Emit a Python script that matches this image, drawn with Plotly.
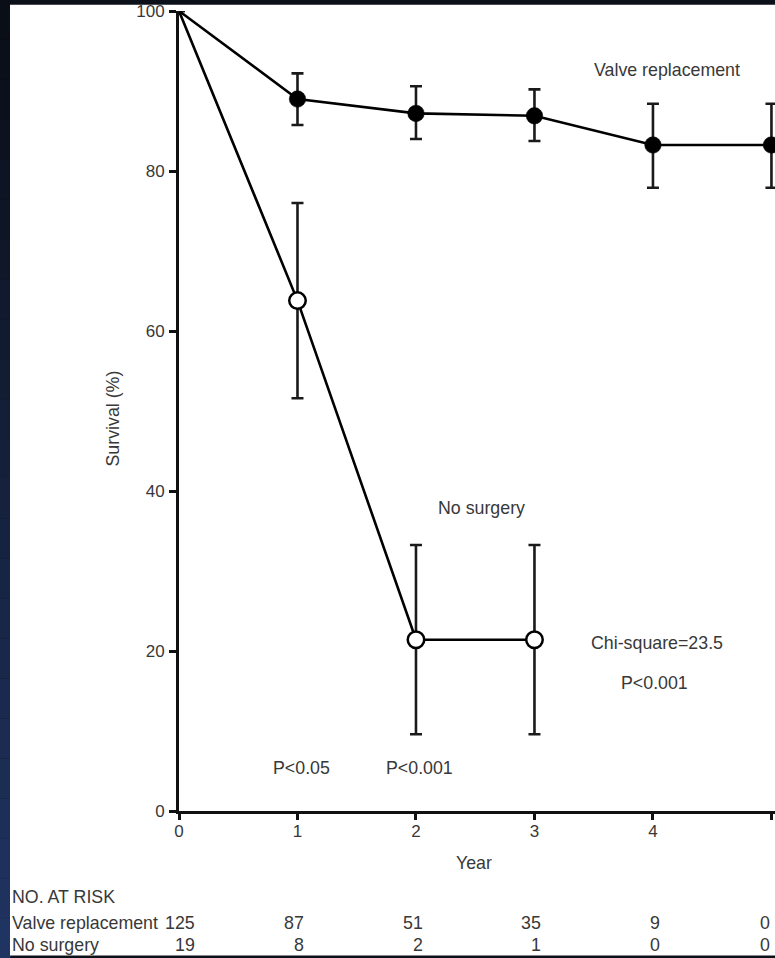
import plotly.graph_objects as go

# ---------------- data ----------------
years = [0, 1, 2, 3, 4, 5]
year_ticks = ["0", "1", "2", "3", "4", "5"]

vr_surv = [100, 89.0, 87.2, 86.9, 83.25, 83.25]
vr_upper = [100, 92.2, 90.6, 90.2, 88.4, 88.4]
vr_lower = [100, 85.75, 84.0, 83.75, 77.9, 77.9]

ns_years = [0, 1, 2, 3]
ns_surv = [100, 63.8, 21.4, 21.4]
ns_upper = [100, 76.0, 33.25, 33.25]
ns_lower = [100, 51.6, 9.6, 9.6]

risk_vr = ["125", "87", "51", "35", "9", "0"]
risk_ns = ["19", "8", "2", "1", "0", "0"]
risk_labels = ["Valve replacement", "No surgery"]

y_ticks = [0, 20, 40, 60, 80, 100]

# ---------------- figure ----------------
FONT = "Liberation Sans, Arial, Helvetica, sans-serif"
TXT = "#383838"
ASIZE = 17.8

def err(vals, up, lo):
    return ([u - v for u, v in zip(up, vals)], [v - l for v, l in zip(vals, lo)])

vr_p, vr_m = err(vr_surv, vr_upper, vr_lower)
ns_p, ns_m = err(ns_surv, ns_upper, ns_lower)

def sizes(n):
    return [0] + [16.5] * (n - 1)

fig = go.Figure()
for xs, ys, p, m in [(years, vr_surv, vr_p, vr_m), (ns_years, ns_surv, ns_p, ns_m)]:
    fig.add_trace(go.Scatter(
        x=xs, y=ys, mode="markers", cliponaxis=False,
        marker=dict(size=0.1, color="rgba(0,0,0,0)"),
        error_y=dict(type="data", symmetric=False, array=p, arrayminus=m,
                     color="#1a1a1a", thickness=2.6, width=6),
        showlegend=False, hoverinfo="skip"))

fig.add_trace(go.Scatter(
    x=years, y=vr_surv, mode="lines+markers", cliponaxis=False, opacity=1,
    line=dict(color="black", width=2.6),
    marker=dict(color="black", size=sizes(len(years)), opacity=1,
                line=dict(color="black", width=0.5)),
    showlegend=False))
fig.add_trace(go.Scatter(
    x=ns_years, y=ns_surv, mode="lines+markers", cliponaxis=False, opacity=1,
    line=dict(color="black", width=2.6),
    marker=dict(color="white", size=sizes(len(ns_years)), opacity=1,
                line=dict(color="black", width=2.5)),
    showlegend=False))

L, T, B = 179, 11, 147
W, H = 775, 958
PW = W - L
PH = H - T - B

def px_x(p):
    return (p - L) / PW

def px_y(p):
    return (H - B - p) / PH

shapes = []
n = 24
for i in range(n):
    t = i / (n - 1)
    r = int(10 + t * (32 - 10))
    g = int(14 + t * (52 - 14))
    b = int(22 + t * (98 - 22))
    shapes.append(dict(type="rect", xref="paper", yref="paper", layer="below",
                       x0=px_x(-1), x1=px_x(10.5),
                       y0=px_y(H * (i + 1) / n), y1=px_y(H * i / n),
                       fillcolor=f"rgb({r},{g},{b})", line=dict(width=0)))
shapes.append(dict(type="rect", xref="paper", yref="paper", layer="below",
                   x0=px_x(10), x1=px_x(W + 5), y0=px_y(955.5), y1=px_y(4.7),
                   fillcolor="white", line=dict(width=0)))

ann = []
def A(text, x, y, xref="x", yref="y", **kw):
    d = dict(text=text, x=x, y=y, xref=xref, yref=yref, showarrow=False,
             xanchor="center", yanchor="middle",
             font=dict(family=FONT, size=ASIZE, color=TXT))
    d.update(kw)
    ann.append(d)

A("Valve replacement", 4.12, 92.6)
A("No surgery", 2.55, 37.9)
A("Chi-square=23.5", 4.03, 21.06)
A("P<0.001", 4.01, 16.0)
A("P<0.05", 1.03, 5.4)
A("P<0.001", 2.03, 5.4)
A("Year", 2.49, px_y(862.5), yref="paper")
A("Survival (%)", px_x(112.5), 49, xref="paper", textangle=-90)

ROW_Y = [px_y(897), px_y(923), px_y(945)]
A("NO. AT RISK", px_x(10), ROW_Y[0], xref="paper", yref="paper", xanchor="left")
A(risk_labels[0], px_x(10), ROW_Y[1], xref="paper", yref="paper", xanchor="left")
A(risk_labels[1], px_x(10), ROW_Y[2], xref="paper", yref="paper", xanchor="left")
col_shift = [18, 9, 9, 9, 9, 1]
for i, yr in enumerate(years):
    A(risk_vr[i], yr, ROW_Y[1], yref="paper", xanchor="right", xshift=col_shift[i])
    A(risk_ns[i], yr, ROW_Y[2], yref="paper", xanchor="right", xshift=col_shift[i])

fig.update_layout(
    width=W, height=H,
    margin=dict(l=L, r=0, t=T, b=B),
    paper_bgcolor="#0c1019",
    plot_bgcolor="white",
    shapes=shapes,
    annotations=ann,
    font=dict(family=FONT, size=17, color=TXT),
    xaxis=dict(range=[0, 5.03], tickmode="array", tickvals=years, ticktext=year_ticks,
               showgrid=False, zeroline=False, showline=True, linecolor="#111", linewidth=3,
               ticks="outside", ticklen=6, tickwidth=2.5, tickcolor="#111",
               ticklabelstandoff=-3,
               tickfont=dict(family=FONT, size=17, color=TXT)),
    yaxis=dict(range=[0, 100], tickmode="array", tickvals=y_ticks,
               showgrid=False, zeroline=False, showline=True, linecolor="#111", linewidth=3,
               ticks="outside", ticklen=7, tickwidth=2.5, tickcolor="#111",
               ticklabelstandoff=1,
               tickfont=dict(family=FONT, size=17, color=TXT)),
)

fig.write_html("out.html",
               config={"displayModeBar": False},
               post_script="document.body.style.margin='0';document.body.style.padding='0';"
                           "document.body.style.overflow='hidden';")
